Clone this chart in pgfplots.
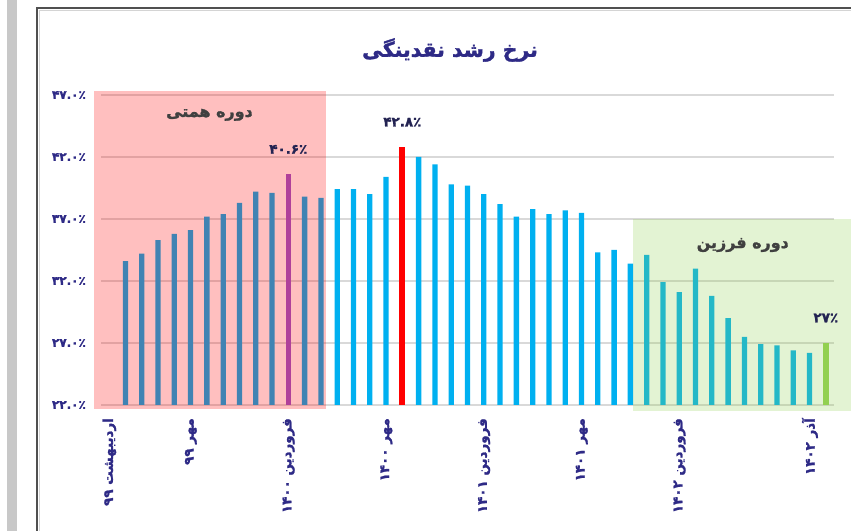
\documentclass[border=0pt]{standalone}
\usepackage{pgfplots}
\pgfplotsset{compat=1.18}
\usepackage{fontspec}
\TeXXeTstate=1
\newfontfamily\arabicfont[Script=Arabic, BoldFeatures={FakeBold=1.6}]{DejaVu Sans}
\definecolor{cyanbar}{HTML}{00B0F0}
\definecolor{purplebar}{HTML}{B0409A}
\definecolor{greenbar}{HTML}{92D050}
\definecolor{greenov}{HTML}{92D050}
\definecolor{gridgray}{HTML}{D9D9D9}
\definecolor{stripgray}{HTML}{C8C8C8}
\definecolor{framedark}{HTML}{505050}
\definecolor{framelight}{HTML}{D4D4D4}
\definecolor{navytxt}{HTML}{2E2A86}
\definecolor{labeltxt}{HTML}{232352}
\definecolor{regiontxt}{HTML}{404040}
\begin{document}
\begin{tikzpicture}
\useasboundingbox (0bp,0bp) rectangle (851bp,531bp);
\fill[white] (0bp,0bp) rectangle (851bp,531bp);
\fill[stripgray] (7bp,0bp) rectangle (17bp,531bp);
\draw[framelight, line width=1bp] (39.5bp,0bp) -- (39.5bp,520.5bp) -- (851bp,520.5bp);
\draw[framedark, line width=1.2bp] (37bp,0bp) -- (37bp,523bp) -- (851bp,523bp);
\node[text=navytxt, font=\arabicfont\bfseries\fontsize{20.5}{24}\selectfont, inner sep=0pt] at (450bp,481bp) {\beginR نرخ رشد نقدینگی\endR};
\begin{axis}[
  at={(101bp,126bp)}, anchor=south west,
  scale only axis, width=733bp, height=310bp,
  xmin=-1.5, xmax=43.5, ymin=22, ymax=47,
  clip mode=individual,
  axis line style={draw=none},
  major tick length=0pt,
  ymajorgrids, xmajorgrids=false,
  grid style={color=gridgray, line width=1.3bp},
  ytick={22,27,32,37,42,47},
  yticklabels={۲۲.۰٪,۲۷.۰٪,۳۲.۰٪,۳۷.۰٪,۴۲.۰٪,۴۷.۰٪},
  yticklabel style={inner sep=0pt, anchor=east, xshift=-15bp, text=navytxt,
    font=\arabicfont\bfseries\fontsize{12}{14}\selectfont},
  xtick={0,5,11,17,23,29,35,43},
  xticklabels={
    {\beginR اردیبهشت ۹۹\endR},
    {\beginR مهر ۹۹\endR},
    {\beginR فروردین ۱۴۰۰\endR},
    {\beginR مهر ۱۴۰۰\endR},
    {\beginR فروردین ۱۴۰۱\endR},
    {\beginR مهر ۱۴۰۱\endR},
    {\beginR فروردین ۱۴۰۲\endR},
    {\beginR آذر ۱۴۰۲\endR}},
  xticklabel style={inner sep=0pt, xshift=-16bp, yshift=-13bp, rotate=90, anchor=east,
    text=navytxt, font=\arabicfont\bfseries\fontsize{13.5}{15}\selectfont},
]
\addplot[ybar, bar width=5.3bp, bar shift=0pt, fill=cyanbar, draw=none] coordinates {
(0,33.6) (1,34.2) (2,35.3) (3,35.8) (4,36.1) (5,37.2) (6,37.4) (7,38.3) (8,39.2) (9,39.1)
(11,38.8) (12,38.7) (13,39.4) (14,39.4) (15,39.0) (16,40.4)
(18,42.0) (19,41.4) (20,39.8) (21,39.7) (22,39.0) (23,38.2) (24,37.2) (25,37.8) (26,37.4)
(27,37.7) (28,37.5) (29,34.3) (30,34.5) (31,33.4) (32,34.1) (33,31.9) (34,31.1) (35,33.0)
(36,30.8) (37,29.0) (38,27.5) (39,26.9) (40,26.8) (41,26.4) (42,26.2)
};
\addplot[ybar, bar width=6bp, bar shift=0pt, fill=red, draw=none] coordinates {(17,42.8)};
\fill[red, fill opacity=0.25] (axis cs:-1.905,21.68) rectangle (axis cs:12.29,47.32);
\fill[greenov, fill opacity=0.25] (axis cs:31.16,21.5) rectangle (axis cs:44.56,37);
\addplot[ybar, bar width=5.3bp, bar shift=0pt, fill=purplebar, draw=none] coordinates {(10,40.6)};
\addplot[ybar, bar width=5.3bp, bar shift=0pt, fill=greenbar, draw=none] coordinates {(43,27.0)};
\node[text=labeltxt, font=\arabicfont\bfseries\fontsize{13.5}{15}\selectfont, yshift=25bp] at (axis cs:10,40.6) {۴۰.۶٪};
\node[text=labeltxt, font=\arabicfont\bfseries\fontsize{13.5}{15}\selectfont, yshift=25bp] at (axis cs:17,42.8) {۴۲.۸٪};
\node[text=labeltxt, font=\arabicfont\bfseries\fontsize{13.5}{15}\selectfont, yshift=25bp] at (axis cs:43,27.0) {۲۷٪};
\node[text=regiontxt, font=\arabicfont\bfseries\fontsize{16}{18}\selectfont] at (axis cs:5.16,45.4) {\beginR دوره همتی\endR};
\node[text=regiontxt, font=\arabicfont\bfseries\fontsize{16}{18}\selectfont] at (axis cs:37.9,34.9) {\beginR دوره فرزین\endR};
\end{axis}
\end{tikzpicture}
\end{document}
